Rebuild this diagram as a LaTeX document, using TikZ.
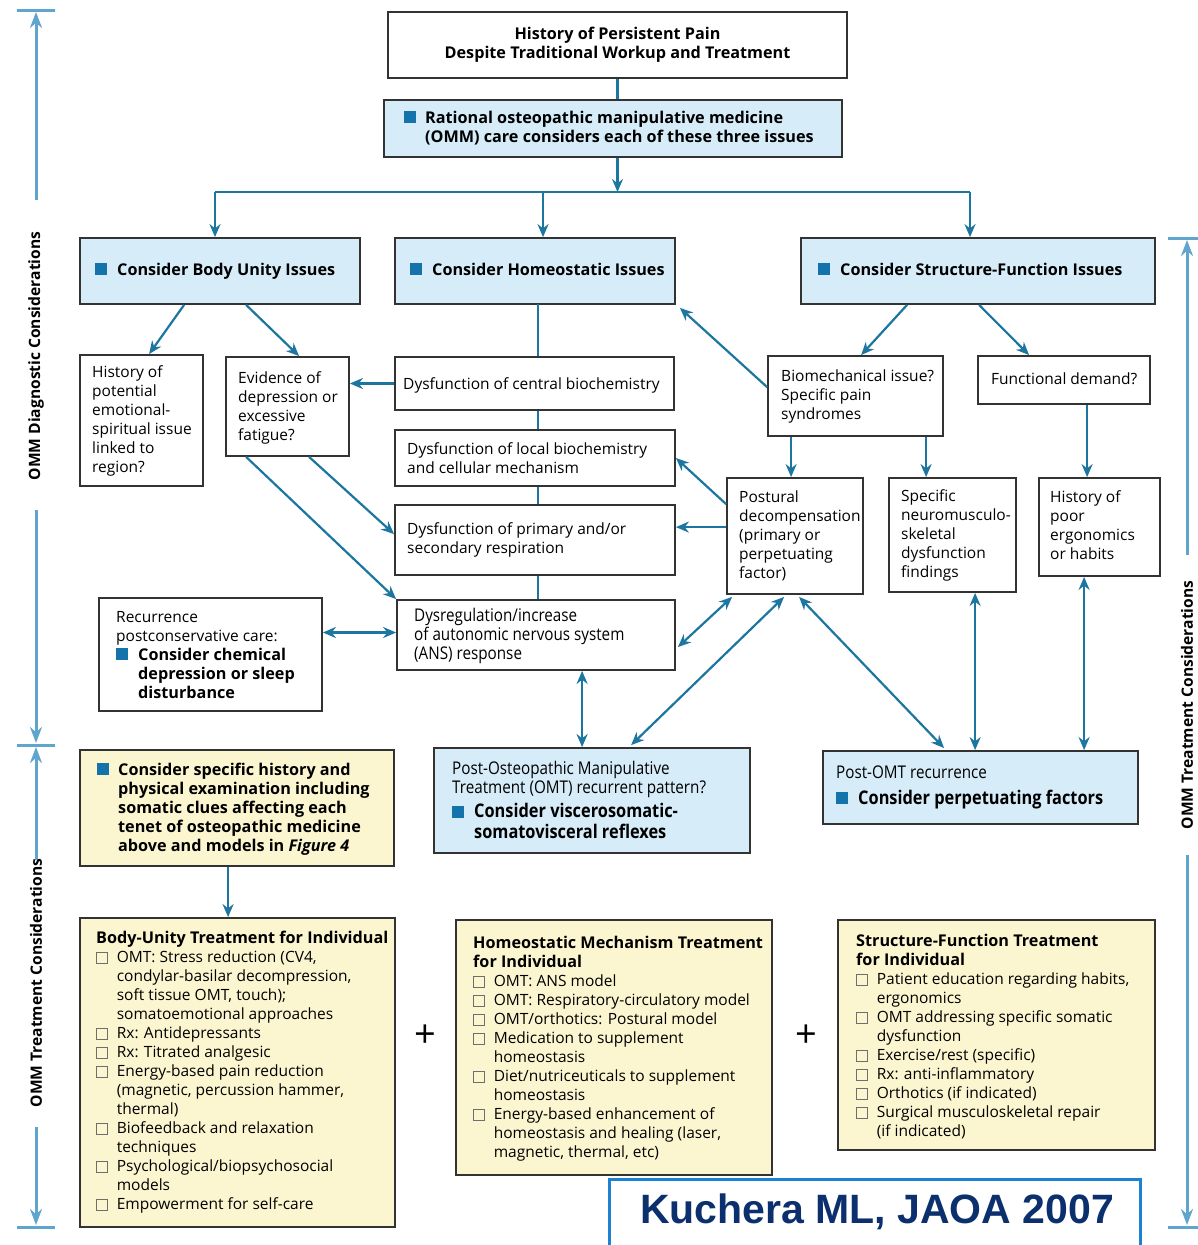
\documentclass[tikz,border=0pt]{standalone}
\usepackage{fontspec}
\setmainfont{Open Sans}
\newfontfamily\cnd[FakeStretch=0.87]{Open Sans}
\newfontfamily\kfont{Liberation Sans}
\usetikzlibrary{arrows.meta,fit,calc}
\definecolor{conn}{RGB}{28,118,160}
\definecolor{axisc}{RGB}{95,165,205}
\definecolor{bfill}{RGB}{214,236,248}
\definecolor{yfill}{RGB}{252,246,208}
\definecolor{bul}{RGB}{20,115,170}
\definecolor{cbc}{RGB}{110,110,110}
\definecolor{knavy}{RGB}{12,48,110}
\definecolor{kblue}{RGB}{30,130,210}
\newcommand\fsr{\fontsize{15.5}{19}\selectfont}
\newcommand\fsb{\fontsize{16.2}{19}\selectfont\bfseries}
\newcommand\fsc{\cnd\fontsize{17.5}{19}\selectfont}
\newcommand\fscb{\cnd\fontsize{18.8}{19}\selectfont\bfseries}
\newcommand\bsq{\textcolor{bul}{\rule{12pt}{12pt}}}
\newcommand\cbx{\raisebox{-1pt}{\setlength\fboxsep{0pt}\setlength\fboxrule{0.8pt}\textcolor{cbc}{\fbox{\rule{0pt}{10pt}\hspace{10pt}}}}}
\newcommand\bx[6]{\node[#6, fit={(#2,#3) (#4,#5)}] (#1) {};}
\newcommand\tx[4]{\node[txt] (#1) at (#2,#3) {#4};}
\tikzset{
  nbox/.style={draw=black!80, line width=1.8pt, inner sep=0pt, fill=white},
  bluebox/.style={nbox, fill=bfill},
  yelbox/.style={nbox, fill=yfill},
  txt/.style={anchor=base west, inner sep=0pt, font=\fsr},
  con/.style={draw=conn, line width=2.2pt, -{Stealth[length=13pt,width=11pt]}},
  dcon/.style={draw=conn, line width=2.2pt, {Stealth[length=13pt,width=11pt]}-{Stealth[length=13pt,width=11pt]}},
  lin/.style={draw=conn, line width=2.2pt},
  axl/.style={draw=axisc, line width=3pt},
  axa/.style={axl, -{Stealth[length=16pt,width=12pt]}},
  vlab/.style={rotate=90, font=\fontsize{15.6}{19}\selectfont\bfseries},
}
\begin{document}
\begin{tikzpicture}[x=1pt,y=-1pt]
\useasboundingbox (0,0) rectangle (1198,1245);
\fill[white] (0,0) rectangle (1198,1245);

% ---------- side axes ----------
\coordinate (LT1) at (17,10);   \coordinate (LT2) at (55,10);
\coordinate (LM1) at (17,745);  \coordinate (LM2) at (55,745);
\coordinate (LB1) at (17,1227); \coordinate (LB2) at (55,1227);
\draw[axl] (LT1) -- (LT2);
\draw[axl] (LM1) -- (LM2);
\draw[axl] (LB1) -- (LB2);
\coordinate (La) at (36,200);  \coordinate (Lat) at (36,12);
\coordinate (Lb) at (36,510);  \coordinate (Lbt) at (36,743);
\coordinate (Lc) at (36,860);  \coordinate (Lct) at (36,747);
\coordinate (Ld) at (36,1127); \coordinate (Ldt) at (36,1225);
\draw[axa] (La) -- (Lat);
\draw[axa] (Lb) -- (Lbt);
\draw[axa] (Lc) -- (Lct);
\draw[axa] (Ld) -- (Ldt);
\node[vlab] (labD) at (36,356) {OMM Diagnostic Considerations};
\node[vlab] (labT1) at (36,983) {OMM Treatment Considerations};

\coordinate (RT1) at (1168,238); \coordinate (RT2) at (1198,238);
\coordinate (RB1) at (1168,1227); \coordinate (RB2) at (1198,1227);
\draw[axl] (RT1) -- (RT2);
\draw[axl] (RB1) -- (RB2);
\coordinate (Ra) at (1187,555); \coordinate (Rat) at (1187,240);
\coordinate (Rb) at (1187,855); \coordinate (Rbt) at (1187,1225);
\draw[axa] (Ra) -- (Rat);
\draw[axa] (Rb) -- (Rbt);
\node[vlab] (labT2) at (1187,705) {OMM Treatment Considerations};

% ---------- boxes ----------
\bx{top}{388}{12}{847}{78}{nbox}
\bx{rat}{384}{100}{842}{157}{bluebox}
\bx{bu}{80}{238}{360}{304}{bluebox}
\bx{ho}{395}{238}{675}{304}{bluebox}
\bx{sf}{801}{238}{1155}{304}{bluebox}
\bx{hp}{80}{355}{203}{486}{nbox}
\bx{ev}{226}{357}{349}{456}{nbox}
\bx{cb}{395}{357}{674}{410}{nbox}
\bx{lb}{395}{430}{675}{486}{nbox}
\bx{rs}{395}{505}{675}{575}{nbox}
\bx{ans}{397}{600}{675}{670}{nbox}
\bx{rec}{99}{598}{322}{711}{nbox}
\bx{bio}{768}{356}{943}{436}{nbox}
\bx{fd}{978}{356}{1150}{404}{nbox}
\bx{pd}{727}{478}{863}{594}{nbox}
\bx{snf}{889}{478}{1016}{592}{nbox}
\bx{hpe}{1039}{478}{1160}{576}{nbox}
\bx{pomt}{434}{748}{750}{853}{bluebox}
\bx{prec}{823}{751}{1138}{824}{bluebox}
\bx{csh}{80}{750}{394}{866}{yelbox}
\bx{but}{80}{918}{395}{1227}{yelbox}
\bx{hmt}{456}{920}{772}{1175}{yelbox}
\bx{sft}{838}{920}{1155}{1150}{yelbox}

% ---------- texts ----------
\node[font=\fsb, inner sep=0pt] (top-t) at (617.5,45) {\begin{tabular}{@{}c@{}}History of Persistent Pain\\Despite Traditional Workup and Treatment\end{tabular}};
\tx{rat-t}{404}{123}{\fsb\begin{tabular}[t]{@{}l@{\hspace{9pt}}l@{}}\bsq & Rational osteopathic manipulative medicine\\ & (OMM) care considers each of these three issues\end{tabular}}
\tx{bu-t}{95}{275}{\fsb\bsq\hspace{10pt}Consider Body Unity Issues}
\tx{ho-t}{410}{275}{\fsb\bsq\hspace{10pt}Consider Homeostatic Issues}
\tx{sf-t}{818}{275}{\fsb\bsq\hspace{10pt}Consider Structure-Function Issues}
\tx{hp-t}{92}{377}{\begin{tabular}[t]{@{}l@{}}History of\\potential\\emotional-\\spiritual issue\\linked to\\region?\end{tabular}}
\tx{ev-t}{238}{383}{\begin{tabular}[t]{@{}l@{}}Evidence of\\depression or\\excessive\\fatigue?\end{tabular}}
\tx{cb-t}{403}{389}{Dysfunction of central biochemistry}
\tx{lb-t}{407}{454}{\begin{tabular}[t]{@{}l@{}}Dysfunction of local biochemistry\\and cellular mechanism\end{tabular}}
\tx{rs-t}{407}{534}{\begin{tabular}[t]{@{}l@{}}Dysfunction of primary and/or\\secondary respiration\end{tabular}}
\tx{ans-t}{414}{621}{\fsc\begin{tabular}[t]{@{}l@{}}Dysregulation/increase\\of autonomic nervous system\\(ANS) response\end{tabular}}
\tx{rec-t}{116}{622}{\begin{tabular}[t]{@{}l@{\hspace{10pt}}l@{}}\multicolumn{2}{@{}l@{}}{Recurrence}\\\multicolumn{2}{@{}l@{}}{postconservative care:}\\\bsq & \fsb Consider chemical\\ & \fsb depression or sleep\\ & \fsb disturbance\end{tabular}}
\tx{bio-t}{781}{381}{\begin{tabular}[t]{@{}l@{}}Biomechanical issue?\\Specific pain\\syndromes\end{tabular}}
\tx{fd-t}{991}{384}{Functional demand?}
\tx{pd-t}{739}{502}{\begin{tabular}[t]{@{}l@{}}Postural\\decompensation\\(primary or\\perpetuating\\factor)\end{tabular}}
\tx{snf-t}{901}{501}{\begin{tabular}[t]{@{}l@{}}Specific\\neuromusculo-\\skeletal\\dysfunction\\findings\end{tabular}}
\tx{hpe-t}{1050}{502}{\begin{tabular}[t]{@{}l@{}}History of\\poor\\ergonomics\\or habits\end{tabular}}
\tx{pomt-t}{452}{774}{\fsc\begin{tabular}[t]{@{}l@{\hspace{10pt}}l@{}}\multicolumn{2}{@{}l@{}}{Post-Osteopathic Manipulative}\\\multicolumn{2}{@{}l@{}}{Treatment (OMT) recurrent pattern?}\\[5pt]\bsq & \fscb Consider viscerosomatic-\\ & \fscb somatovisceral reflexes\end{tabular}}
\tx{prec-t}{836}{778}{\fsc\begin{tabular}[t]{@{}l@{\hspace{10pt}}l@{}}\multicolumn{2}{@{}l@{}}{Post-OMT recurrence}\\[6pt]\bsq & \fscb Consider perpetuating factors\end{tabular}}
\tx{csh-t}{97}{775}{\fsb\begin{tabular}[t]{@{}l@{\hspace{9pt}}l@{}}\bsq & Consider specific history and\\ & physical examination including\\ & somatic clues affecting each\\ & tenet of osteopathic medicine\\ & above and models in \textit{Figure 4}\end{tabular}}
\tx{but-t}{96}{943}{\begin{tabular}[t]{@{}l@{\hspace{9pt}}l@{}}\multicolumn{2}{@{}l@{}}{\fsb Body-Unity Treatment for Individual}\\
\cbx & OMT: Stress reduction (CV4,\\
 & condylar-basilar decompression,\\
 & soft tissue OMT, touch);\\
 & somatoemotional approaches\\
\cbx & Rx: Antidepressants\\
\cbx & Rx: Titrated analgesic\\
\cbx & Energy-based pain reduction\\
 & (magnetic, percussion hammer,\\
 & thermal)\\
\cbx & Biofeedback and relaxation\\
 & techniques\\
\cbx & Psychological/biopsychosocial\\
 & models\\
\cbx & Empowerment for self-care\end{tabular}}
\tx{hmt-t}{473}{948}{\begin{tabular}[t]{@{}l@{\hspace{9pt}}l@{}}\multicolumn{2}{@{}l@{}}{\fsb Homeostatic Mechanism Treatment}\\
\multicolumn{2}{@{}l@{}}{\fsb for Individual}\\
\cbx & OMT: ANS model\\
\cbx & OMT: Respiratory-circulatory model\\
\cbx & OMT/orthotics: Postural model\\
\cbx & Medication to supplement\\
 & homeostasis\\
\cbx & Diet/nutriceuticals to supplement\\
 & homeostasis\\
\cbx & Energy-based enhancement of\\
 & homeostasis and healing (laser,\\
 & magnetic, thermal, etc)\end{tabular}}
\tx{sft-t}{856}{946}{\begin{tabular}[t]{@{}l@{\hspace{9pt}}l@{}}\multicolumn{2}{@{}l@{}}{\fsb Structure-Function Treatment}\\
\multicolumn{2}{@{}l@{}}{\fsb for Individual}\\
\cbx & Patient education regarding habits,\\
 & ergonomics\\
\cbx & OMT addressing specific somatic\\
 & dysfunction\\
\cbx & Exercise/rest (specific)\\
\cbx & Rx: anti-inflammatory\\
\cbx & Orthotics (if indicated)\\
\cbx & Surgical musculoskeletal repair\\
 & (if indicated)\end{tabular}}

\node[font=\fontsize{38}{38}\selectfont, inner sep=0pt] (pl1) at (425,1036) {+};
\node[font=\fontsize{38}{38}\selectfont, inner sep=0pt] (pl2) at (806,1036) {+};

% Kuchera box (bottom edge outside the picture)
\node[fill=white, inner sep=0pt, fit={(610,1180) (1140,1250)}] (kb) {};
\draw[kblue, line width=3pt] (kb.south west) -- (kb.north west) -- (kb.north east) -- (kb.south east);
\node[font=\kfont\bfseries\fontsize{41}{41}\selectfont, text=knavy, inner sep=0pt] (kb-t) at (877,1212) {Kuchera ML, JAOA 2007};

% ---------- connectors ----------
\coordinate (bus) at (617.5,192);
\coordinate (busL) at (215,192);
\coordinate (busM) at (543,192);
\coordinate (busR) at (970,192);
\draw[lin] (top.south) -- (top.south |- rat.north);
\draw[con] (top.south |- rat.south) -- (bus);
\draw[lin] (busL) -- (busR);
\draw[con] (busL) -- (busL |- bu.north);
\draw[con] (busM) -- (busM |- ho.north);
\draw[con] (busR) -- (busR |- sf.north);

\draw[con] ($(bu.south west)+(105,0)$) -- ($(hp.north west)+(70,0)$);
\draw[con] ($(bu.south west)+(167,0)$) -- ($(ev.north west)+(74,0)$);

\coordinate (hx) at (538,304);
\draw[lin] (hx) -- (hx |- cb.north);
\draw[lin] (hx |- cb.south) -- (hx |- lb.north);
\draw[lin] (hx |- lb.south) -- (hx |- rs.north);
\draw[lin] (hx |- rs.south) -- (hx |- ans.north);
\draw[con] (cb.west) -- (cb.west -| ev.east);

\draw[con] ($(ev.south west)+(84,0)$) -- ($(rs.north west)+(0,30)$);
\draw[con] ($(ev.south west)+(21,0)$) -- (ans.north west);

\coordinate (rr) at ($(rec.east)+(0,-22)$);
\draw[dcon] (rr) -- (rr -| ans.west);

\draw[con] ($(sf.south west)+(107,0)$) -- ($(bio.north west)+(94,0)$);
\draw[con] ($(sf.south west)+(179,0)$) -- ($(fd.north west)+(52,0)$);
\draw[con] ($(bio.north west)+(0,32)$) -- ($(ho.south east)+(4,3)$);

\coordinate (b1) at ($(bio.south west)+(24,0)$);
\coordinate (b2) at ($(bio.south west)+(159,0)$);
\coordinate (f1) at ($(fd.south west)+(110,0)$);
\draw[con] (b1) -- (b1 |- pd.north);
\draw[con] (b2) -- (b2 |- snf.north);
\draw[con] (f1) -- (f1 |- hpe.north);

\draw[con] ($(pd.north west)+(0,27)$) -- (lb.east);
\coordinate (p1) at ($(pd.north west)+(0,50)$);
\draw[con] (p1) -- (p1 -| rs.east);
\draw[dcon] ($(pd.south west)+(6,2)$) -- ($(ans.north east)+(2,48)$);
\draw[dcon] ($(pd.south west)+(58,2)$) -- ($(pomt.north west)+(198,-2)$);
\draw[dcon] ($(pd.south west)+(73,2)$) -- ($(prec.north west)+(122,-2)$);

\coordinate (s1) at ($(snf.south west)+(87,0)$);
\draw[dcon] (s1) -- (s1 |- prec.north);
\coordinate (h1) at ($(hpe.south west)+(46,0)$);
\draw[dcon] (h1) -- (h1 |- prec.north);
\coordinate (a1) at ($(ans.south west)+(186,0)$);
\draw[dcon] (a1) -- (a1 |- pomt.north);

\coordinate (c1) at ($(csh.south west)+(149,0)$);
\draw[con] (c1) -- (c1 |- but.north);
\end{tikzpicture}
\end{document}
